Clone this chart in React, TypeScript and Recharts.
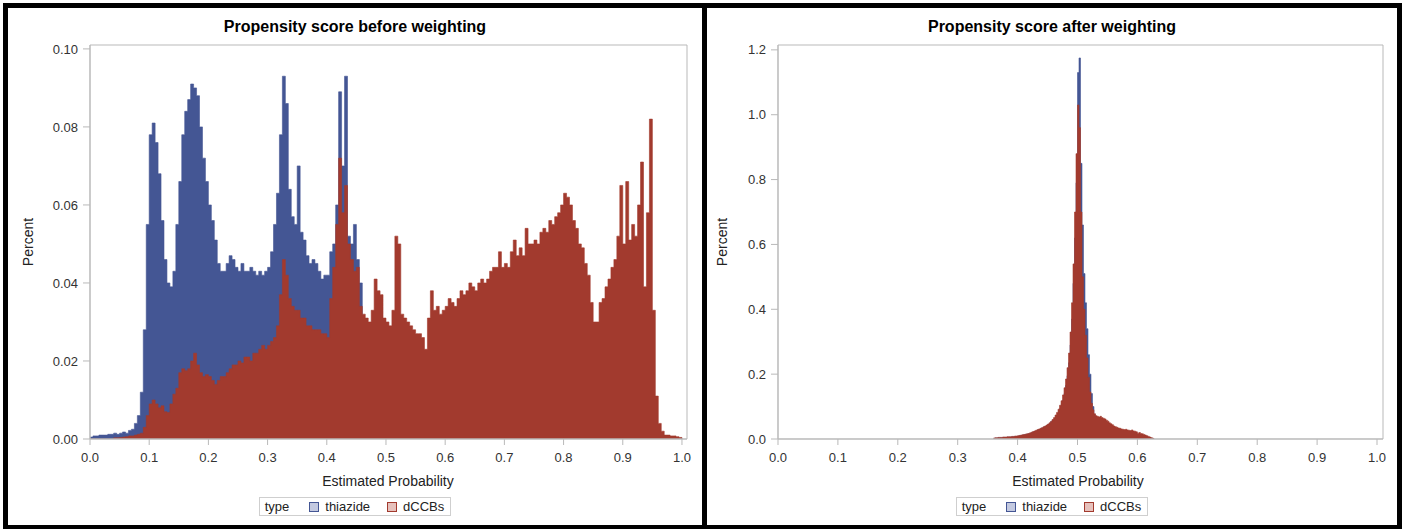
import { Area, AreaChart, Legend, ReferenceArea, XAxis, YAxis } from "recharts";

const BLUE = "#445694";
const RED = "#a23a2e";
const AXIS = "#b9b9b9";
const FONT = "'Liberation Sans', Arial, sans-serif";

const SERIES = ["thiazide", "dCCBs"];
const X_TICKS = [0, 0.1, 0.2, 0.3, 0.4, 0.5, 0.6, 0.7, 0.8, 0.9, 1.0];
const Y_TICKS_BEFORE = [0, 0.02, 0.04, 0.06, 0.08, 0.1];
const Y_TICKS_AFTER = [0, 0.2, 0.4, 0.6, 0.8, 1.0, 1.2];

// before weighting: bins of 0.005 starting at 0.0
const BEFORE_START = 0;
const BEFORE_BIN = 0.005;
const BEFORE_THIAZIDE = [
  0.0005, 0.0008, 0.0008, 0.001, 0.001, 0.001, 0.0012, 0.0012, 0.0015, 0.0012,
  0.0015, 0.0018, 0.0015, 0.0022, 0.0025, 0.004, 0.006, 0.012, 0.028, 0.055,
  0.078, 0.081, 0.076, 0.068, 0.056, 0.046, 0.04, 0.039, 0.043, 0.055,
  0.066, 0.078, 0.084, 0.087, 0.091, 0.09, 0.088, 0.08, 0.072, 0.066,
  0.06, 0.056, 0.051, 0.045, 0.043, 0.043, 0.045, 0.047, 0.046, 0.044,
  0.043, 0.045, 0.043, 0.043, 0.044, 0.043, 0.042, 0.043, 0.042, 0.043,
  0.044, 0.048, 0.055, 0.063, 0.078, 0.093, 0.086, 0.064, 0.057, 0.055,
  0.07, 0.053, 0.051, 0.047, 0.045, 0.046, 0.045, 0.043, 0.041, 0.042,
  0.042, 0.048, 0.05, 0.06, 0.089, 0.07, 0.093, 0.052, 0.05, 0.055,
  0.046, 0.04, 0.03, 0.025, 0.024, 0.024, 0.023, 0.022, 0.022, 0.021,
  0.02, 0.02, 0.019, 0.019, 0.018, 0.018, 0.017, 0.017, 0.016, 0.016,
  0.015, 0.015, 0.014, 0.014, 0.013, 0.013, 0.012, 0.012, 0.011, 0.011,
  0.01, 0.01, 0.01, 0.009, 0.009, 0.009, 0.008, 0.008, 0.008, 0.008,
  0.007, 0.007, 0.007, 0.007, 0.006, 0.006, 0.006, 0.006, 0.006, 0.006,
  0.005, 0.005, 0.005, 0.005, 0.005, 0.005, 0.005, 0.005, 0.005, 0.005,
  0.005, 0.005, 0.005, 0.005, 0.005, 0.005, 0.005, 0.005, 0.005, 0.005,
  0.005, 0.005, 0.005, 0.005, 0.005, 0.005, 0.005, 0.005, 0.005, 0.005,
  0.005, 0.005, 0.005, 0.005, 0.005, 0.005, 0.005, 0.005, 0.005, 0.005,
  0.005, 0.005, 0.005, 0.005, 0.005, 0.005, 0.005, 0.005, 0.005, 0.005,
  0.004, 0.002, 0.001, 0.001, 0.0005, 0.0003, 0.0003, 0.0003, 0.0002, 0.0002,
];
const BEFORE_DCCBS = [
  0, 0, 0, 0, 0, 0, 0, 0, 0.0003, 0.0003,
  0.0004, 0.0005, 0.0006, 0.0008, 0.0008, 0.001, 0.0012, 0.0015, 0.003, 0.006,
  0.009, 0.01, 0.009, 0.008, 0.0085, 0.007, 0.0068, 0.009, 0.0115, 0.013,
  0.017, 0.018, 0.0175, 0.018, 0.02, 0.022, 0.019, 0.017, 0.016, 0.0165,
  0.016, 0.015, 0.014, 0.015, 0.016, 0.016, 0.017, 0.018, 0.019, 0.019,
  0.02, 0.0195, 0.021, 0.021, 0.02, 0.022, 0.022, 0.023, 0.024, 0.023,
  0.024, 0.025, 0.026, 0.029, 0.037, 0.046, 0.042, 0.036, 0.034, 0.033,
  0.033, 0.031, 0.031, 0.029, 0.029, 0.028, 0.028, 0.028, 0.027, 0.027,
  0.026, 0.036, 0.044, 0.055, 0.072, 0.058, 0.065, 0.05, 0.046, 0.043,
  0.044, 0.034, 0.032, 0.031, 0.03, 0.033, 0.041, 0.038, 0.037, 0.031,
  0.03, 0.029, 0.033, 0.052, 0.05, 0.032, 0.031, 0.03, 0.029, 0.028,
  0.027, 0.027, 0.026, 0.023, 0.031, 0.038, 0.033, 0.034, 0.032, 0.033,
  0.034, 0.036, 0.035, 0.034, 0.036, 0.038, 0.037, 0.038, 0.04, 0.039,
  0.038, 0.04, 0.041, 0.04, 0.041, 0.043, 0.044, 0.044, 0.048, 0.044,
  0.045, 0.044, 0.048, 0.051, 0.047, 0.049, 0.047, 0.054, 0.05, 0.05,
  0.051, 0.05, 0.053, 0.054, 0.053, 0.056, 0.055, 0.057, 0.058, 0.06,
  0.063, 0.062, 0.06, 0.056, 0.054, 0.05, 0.049, 0.045, 0.042, 0.035,
  0.03, 0.03, 0.035, 0.036, 0.039, 0.041, 0.044, 0.046, 0.052, 0.065,
  0.05, 0.066, 0.051, 0.055, 0.052, 0.06, 0.071, 0.039, 0.058, 0.082,
  0.033, 0.011, 0.004, 0.002, 0.001, 0.001, 0.0008, 0.0008, 0.0006, 0.0004,
];

// after weighting: bins of 0.0025 starting at 0.36
const AFTER_START = 0.36;
const AFTER_BIN = 0.0025;
const AFTER_THIAZIDE = [
  0.002, 0.003, 0.003, 0.004, 0.004, 0.004, 0.005, 0.005, 0.005, 0.006,
  0.006, 0.006, 0.007, 0.007, 0.008, 0.008, 0.009, 0.01, 0.011, 0.012,
  0.013, 0.014, 0.015, 0.016, 0.017, 0.019, 0.021, 0.023, 0.025, 0.027,
  0.029, 0.031, 0.034, 0.036, 0.038, 0.041, 0.044, 0.048, 0.053, 0.058,
  0.06, 0.066, 0.073, 0.082, 0.093, 0.105, 0.12, 0.14, 0.165, 0.195,
  0.235, 0.29, 0.37, 0.48, 0.62, 0.79, 1.13, 1.175, 0.85, 0.66,
  0.51, 0.42, 0.34, 0.26, 0.2, 0.14, 0.1, 0.075, 0.065, 0.062,
  0.06, 0.058, 0.056, 0.053, 0.05, 0.047, 0.044, 0.041, 0.038, 0.035,
  0.033, 0.031, 0.03, 0.028, 0.027, 0.026, 0.025, 0.024, 0.023, 0.022,
  0.021, 0.02, 0.019, 0.018, 0.017, 0.015, 0.014, 0.013, 0.012, 0.011,
  0.01, 0.008, 0.007, 0.005, 0.004, 0.002, 0.001,
];
const AFTER_DCCBS = [
  0.003, 0.004, 0.004, 0.005, 0.005, 0.005, 0.006, 0.006, 0.006, 0.007,
  0.007, 0.007, 0.008, 0.008, 0.009, 0.009, 0.01, 0.011, 0.012, 0.013,
  0.014, 0.015, 0.016, 0.017, 0.019, 0.021, 0.023, 0.025, 0.027, 0.029,
  0.031, 0.033, 0.035, 0.038, 0.04, 0.043, 0.046, 0.05, 0.054, 0.06,
  0.066, 0.074, 0.082, 0.092, 0.104, 0.118, 0.136, 0.158, 0.185, 0.22,
  0.265, 0.33, 0.42, 0.54, 0.7, 0.88, 1.03, 0.96, 0.7, 0.5,
  0.4, 0.32, 0.25, 0.19, 0.145, 0.11, 0.09, 0.078, 0.072, 0.07,
  0.068, 0.07, 0.066, 0.064, 0.062, 0.058, 0.055, 0.05, 0.047, 0.044,
  0.04, 0.038, 0.036, 0.034, 0.033, 0.031, 0.03, 0.029, 0.03, 0.028,
  0.027, 0.026, 0.028, 0.025, 0.024, 0.022, 0.018, 0.02, 0.017, 0.016,
  0.014, 0.012, 0.01, 0.008, 0.006, 0.004, 0.002,
];

function toRows(start: number, bin: number, thiazide: number[], dccbs: number[]) {
  const rows = thiazide.map((t, i) => ({
    x: +(start + i * bin).toFixed(4),
    thiazide: t,
    dCCBs: dccbs[i],
  }));
  // closing edge of the last bin
  rows.push({ x: +(start + thiazide.length * bin).toFixed(4), thiazide: 0, dCCBs: 0 });
  return rows;
}

const beforeRows = toRows(BEFORE_START, BEFORE_BIN, BEFORE_THIAZIDE, BEFORE_DCCBS);
const afterRows = toRows(AFTER_START, AFTER_BIN, AFTER_THIAZIDE, AFTER_DCCBS);

const tickStyle = { fill: "#333", fontSize: 13, fontFamily: FONT };

function TypeLegend({ payload }: any) {
  const items = SERIES.filter((s) => (payload || []).some((p: any) => p.value === s));
  return (
    <div style={{ display: "flex", justifyContent: "center" }}>
      <div
        style={{
          display: "flex",
          alignItems: "center",
          height: 17,
          border: "1px solid #cfcfcf",
          padding: "0 6px 0 5px",
          fontFamily: FONT,
          fontSize: 13,
          color: "#222",
          background: "#fff",
        }}
      >
        <span style={{ marginRight: 20 }}>type</span>
        {items.map((name, i) => {
          const c = name === "thiazide" ? BLUE : RED;
          const light = name === "thiazide" ? "#c3c9e0" : "#e6c1bc";
          return (
            <span key={name} style={{ display: "flex", alignItems: "center", marginLeft: i ? 17 : 0 }}>
              <span style={{ width: 8, height: 8, border: `1px solid ${c}`, background: light, marginRight: 6 }} />
              {name}
            </span>
          );
        })}
      </div>
    </div>
  );
}

function Panel({
  title,
  rows,
  width,
  xMax,
  yMax,
  yTicks,
  yDigits,
  yAxisWidth,
  marginLeft,
  marginRight,
  yLabelX,
  xLabelX,
}: {
  title: string;
  rows: { x: number; thiazide: number; dCCBs: number }[];
  width: number;
  xMax: number;
  yMax: number;
  yTicks: number[];
  yDigits: number;
  yAxisWidth: number;
  marginLeft: number;
  marginRight: number;
  yLabelX: number;
  xLabelX: number;
}) {
  return (
    <AreaChart
      width={width}
      height={517}
      data={rows}
      margin={{ top: 37, right: marginRight, bottom: 56, left: marginLeft }}
    >
      <XAxis
        dataKey="x"
        type="number"
        domain={[0, xMax]}
        ticks={X_TICKS}
        allowDataOverflow
        height={30}
        tick={tickStyle}
        tickFormatter={(v: number) => v.toFixed(1)}
        tickSize={6}
        tickMargin={8}
        stroke={AXIS}
      />
      <YAxis
        type="number"
        domain={[0, yMax]}
        ticks={yTicks}
        allowDataOverflow
        width={yAxisWidth}
        tick={tickStyle}
        tickFormatter={(v: number) => v.toFixed(yDigits)}
        tickSize={7}
        tickMargin={5}
        stroke={AXIS}
      />
      <Area
        type="stepAfter"
        dataKey="thiazide"
        name="thiazide"
        stroke={BLUE}
        strokeWidth={0.6}
        fill={BLUE}
        fillOpacity={1}
        dot={false}
        activeDot={false}
        isAnimationActive={false}
      />
      <Area
        type="stepAfter"
        dataKey="dCCBs"
        name="dCCBs"
        stroke={RED}
        strokeWidth={0.6}
        fill={RED}
        fillOpacity={1}
        dot={false}
        activeDot={false}
        isAnimationActive={false}
      />
      <ReferenceArea x1={0} x2={xMax} y1={0} y2={yMax} fill="none" stroke={AXIS} ifOverflow="visible" />
      <Legend
        layout="horizontal"
        verticalAlign="middle"
        align="center"
        content={<TypeLegend />}
        wrapperStyle={{ position: "absolute", left: 0, top: 489, width: width }}
      />
      <text x={width / 2} y={24} textAnchor="middle" fontFamily={FONT} fontSize={16} fontWeight="bold" fill="#000">
        {title}
      </text>
      <text x={xLabelX} y={478} textAnchor="middle" fontFamily={FONT} fontSize={14} fill="#222">
        Estimated Probability
      </text>
      <text
        x={yLabelX}
        y={234}
        textAnchor="middle"
        transform={`rotate(-90 ${yLabelX} 234)`}
        fontFamily={FONT}
        fontSize={14}
        fill="#222"
      >
        Percent
      </text>
    </AreaChart>
  );
}

export default function App() {
  return (
    <div style={{ position: "fixed", left: 0, top: 0, width: 1410, height: 529, background: "#fff", overflow: "hidden" }}>
      <div
        style={{
          position: "absolute",
          left: 3,
          top: 3,
          width: 1399,
          height: 527,
          border: "5px solid #000",
          boxSizing: "border-box",
        }}
      />
      <div style={{ position: "absolute", left: 702, top: 3, width: 5, height: 527, background: "#000" }} />
      <div style={{ position: "absolute", left: 8, top: 8 }}>
        <Panel
          title="Propensity score before weighting"
          rows={beforeRows}
          width={694}
          xMax={1.0085}
          yMax={0.101}
          yTicks={Y_TICKS_BEFORE}
          yDigits={2}
          yAxisWidth={60}
          marginLeft={22}
          marginRight={15}
          yLabelX={25}
          xLabelX={380}
        />
      </div>
      <div style={{ position: "absolute", left: 707, top: 8 }}>
        <Panel
          title="Propensity score after weighting"
          rows={afterRows}
          width={690}
          xMax={1.01}
          yMax={1.215}
          yTicks={Y_TICKS_AFTER}
          yDigits={1}
          yAxisWidth={50}
          marginLeft={21}
          marginRight={14}
          yLabelX={20}
          xLabelX={371}
        />
      </div>
    </div>
  );
}
